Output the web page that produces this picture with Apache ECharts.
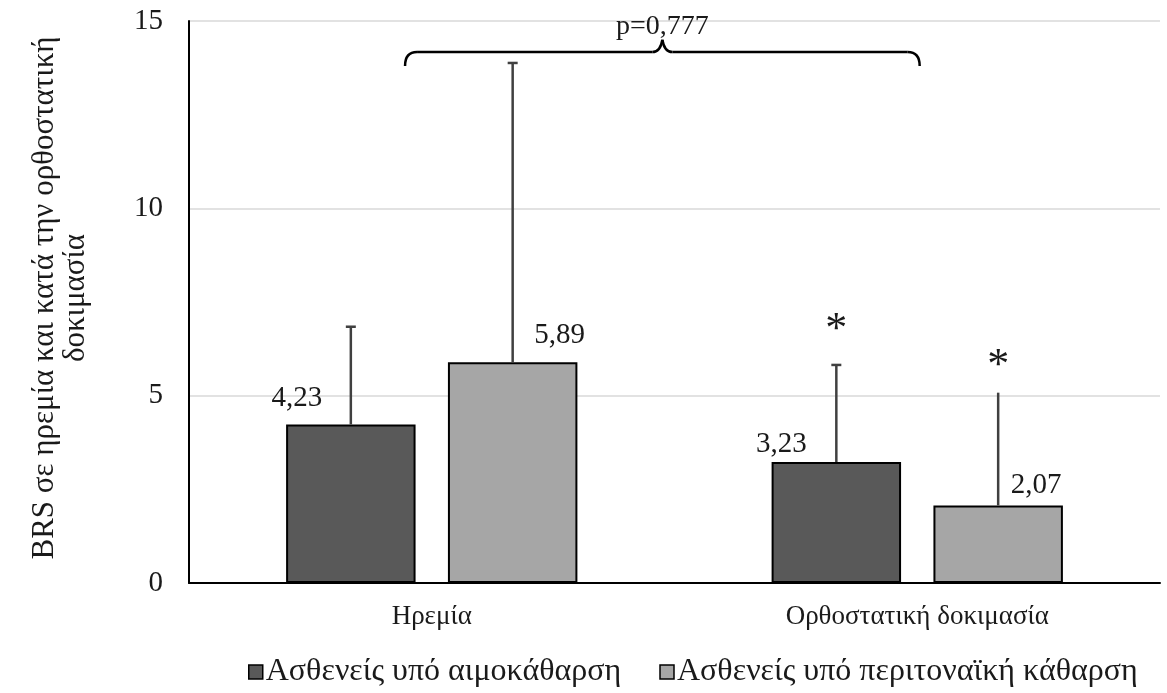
<!DOCTYPE html>
<html>
<head>
<meta charset="utf-8">
<script src="https://cdn.jsdelivr.net/npm/echarts@6/dist/echarts.min.js"></script>
<style>html,body{margin:0;padding:0;background:#fff}#c{width:1167px;height:693px}</style>
</head>
<body>
<div id="c"></div>
<script>
// ---- data ----
const categories = ['Ηρεμία', 'Ορθοστατική δοκιμασία'];
const seriesNames = ['Ασθενείς υπό αιμοκάθαρση', 'Ασθενείς υπό περιτοναϊκή κάθαρση'];
const hdValues = [4.23, 3.23];
const pdValues = [5.89, 2.07];
const hdErrTop = [6.84, 5.82];
const pdErrTop = [13.88, 5.08];
const hdCap = [true, true];
const pdCap = [true, false];
const hdStar = [false, true];
const pdStar = [false, true];
const yTicks = [0, 5, 10, 15];
const pText = 'p=0,777';
const yAxisTitle = 'BRS σε ηρεμία και κατά την ορθοστατική\nδοκιμασία';

const FONT = '"Liberation Serif", "Times New Roman", serif';
const colors = ['#595959', '#a6a6a6'];

function fmt(v) { return v.toFixed(2).replace('.', ','); }

const labelOffsets = [
  [[-54, -12], [-55, -3]],
  [[47, -12], [38, -6]]
];
const starShift = [-35, -26];

function barSeries(idx, values) {
  return {
    name: seriesNames[idx],
    type: 'bar',
    barCategoryGap: '40%',
    barGap: '25%',
    itemStyle: { color: colors[idx], borderColor: '#000', borderWidth: 2 },
    data: values.map((v, i) => ({
      value: v,
      label: { show: true, position: 'top', distance: 0, offset: labelOffsets[idx][i],
        formatter: p => fmt(p.value), fontFamily: FONT, fontSize: 29, color: '#1a1a1a' }
    })),
    z: 2
  };
}

function errSeries(idx, values, tops, caps, stars) {
  const sign = idx === 0 ? -1 : 1;
  return {
    type: 'custom',
    z: 5,
    silent: true,
    data: values.map((v, i) => [i, v, tops[i], caps[i] ? 1 : 0, stars[i] ? 1 : 0]),
    renderItem: function (params, api) {
      const band = api.size([1, 0])[0];
      const base = api.coord([api.value(0), api.value(1)]);
      const top = api.coord([api.value(0), api.value(2)]);
      const x = base[0] + sign * band / 6;
      const children = [{
        type: 'line',
        shape: { x1: x, y1: base[1], x2: x, y2: top[1] },
        style: { stroke: '#404040', lineWidth: 2.5 }
      }];
      if (api.value(3)) {
        children.push({
          type: 'line',
          shape: { x1: x - 5, y1: top[1], x2: x + 5, y2: top[1] },
          style: { stroke: '#404040', lineWidth: 2.5 }
        });
      }
      if (api.value(4)) {
        children.push({
          type: 'text',
          style: { text: '*', x: x, y: top[1] + starShift[idx], align: 'center', verticalAlign: 'middle',
            fontSize: 44, fontFamily: FONT, fill: '#1a1a1a' }
        });
      }
      return { type: 'group', children: children };
    }
  };
}

const chart = echarts.init(document.getElementById('c'), null, { renderer: 'canvas' });
const option = {
  animation: false,
  backgroundColor: '#fff',
  grid: { left: 189, right: 7, top: 21, bottom: 110, containLabel: false },
  legend: {
    data: seriesNames,
    left: 243, top: 651,
    itemWidth: 14, itemHeight: 14, itemGap: 38,
    icon: 'rect',
    itemStyle: { borderColor: '#000', borderWidth: 1.5 },
    textStyle: { fontFamily: FONT, fontSize: 32, color: '#1a1a1a', padding: [0, 0, 0, -2] }
  },
  xAxis: {
    type: 'category',
    data: categories,
    axisLine: { lineStyle: { color: '#000', width: 2 } },
    axisTick: { show: false },
    axisLabel: { fontFamily: FONT, fontSize: 27, color: '#1a1a1a', margin: 20 }
  },
  yAxis: {
    type: 'value',
    min: yTicks[0], max: yTicks[yTicks.length - 1], interval: 5,
    axisLine: { show: true, lineStyle: { color: '#000', width: 2 } },
    axisTick: { show: false },
    splitLine: { lineStyle: { color: '#d9d9d9', width: 1.5 } },
    axisLabel: { fontFamily: FONT, fontSize: 29, color: '#1a1a1a', margin: 26 }
  },
  series: [
    barSeries(0, hdValues),
    barSeries(1, pdValues),
    errSeries(0, hdValues, hdErrTop, hdCap, hdStar),
    errSeries(1, pdValues, pdErrTop, pdCap, pdStar)
  ]
};
chart.setOption(option);

// annotations: y-axis title and brace
const c0 = chart.convertToPixel({ xAxisIndex: 0 }, categories[0]);
const c1 = chart.convertToPixel({ xAxisIndex: 0 }, categories[1]);
const band = c1 - c0;
const L = c0 - 0.055 * band, R = c1 + 0.005 * band, C = (L + R) / 2;
const yH = chart.convertToPixel({ yAxisIndex: 0 }, 14.17);
const yEnd = chart.convertToPixel({ yAxisIndex: 0 }, 13.8);
const yTop = chart.convertToPixel({ yAxisIndex: 0 }, 14.5);
const r = 12;
const braceStyle = { stroke: '#000', lineWidth: 2.5, fill: null };

chart.setOption({
  graphic: [
    {
      type: 'text', x: 60, y: 298, rotation: Math.PI / 2,
      style: { text: yAxisTitle, align: 'center', verticalAlign: 'middle',
        fontFamily: FONT, fontSize: 31, fill: '#1a1a1a', lineHeight: 31 }
    },
    { type: 'bezierCurve', z: 10, shape: { x1: L, y1: yEnd, cpx1: L, cpy1: yH, x2: L + r, y2: yH }, style: braceStyle },
    { type: 'line', z: 10, shape: { x1: L + r, y1: yH, x2: C - 10, y2: yH }, style: braceStyle },
    { type: 'bezierCurve', z: 10, shape: { x1: C - 10, y1: yH, cpx1: C - 2, cpy1: yH, x2: C, y2: yTop }, style: braceStyle },
    { type: 'bezierCurve', z: 10, shape: { x1: C, y1: yTop, cpx1: C + 2, cpy1: yH, x2: C + 10, y2: yH }, style: braceStyle },
    { type: 'line', z: 10, shape: { x1: C + 10, y1: yH, x2: R - r, y2: yH }, style: braceStyle },
    { type: 'bezierCurve', z: 10, shape: { x1: R - r, y1: yH, cpx1: R, cpy1: yH, x2: R, y2: yEnd }, style: braceStyle },
    {
      type: 'text', x: C, y: yTop + 1, z: 10,
      style: { text: pText, align: 'center', verticalAlign: 'bottom',
        fontFamily: FONT, fontSize: 28, fill: '#1a1a1a' }
    }
  ]
});
</script>
</body>
</html>
